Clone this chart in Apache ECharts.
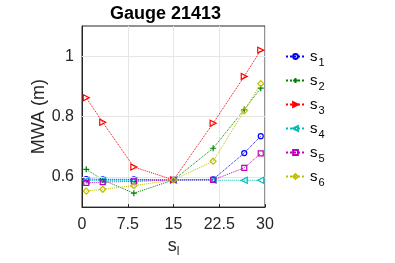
<!DOCTYPE html>
<html><head><meta charset="utf-8">
<script src="https://cdn.jsdelivr.net/npm/echarts@6/dist/echarts.min.js"></script>
<style>html,body{margin:0;padding:0;background:#fff}#c{width:395px;height:263px}</style>
</head><body><div id="c"></div>
<script>
const titleText = 'Gauge 21413';
const xTicks = [0, 7.5, 15, 22.5, 30];
const yTicks = [0.6, 0.8, 1];
const xs = [0.7, 3.4, 8.5, 15, 21.5, 26.6, 29.3];
const s1 = [0.593, 0.592, 0.592, 0.59, 0.592, 0.679, 0.735];
const s2 = [0.625, 0.59, 0.546, 0.59, 0.695, 0.823, 0.894];
const s3 = [0.862, 0.781, 0.633, 0.59, 0.778, 0.933, 1.02];
const s4 = [0.588, 0.588, 0.588, 0.589, 0.589, 0.589, 0.589];
const s5 = [0.58, 0.583, 0.585, 0.59, 0.59, 0.63, 0.678];
const s6 = [0.553, 0.559, 0.571, 0.59, 0.652, 0.819, 0.909];
const names = ['s1', 's2', 's3', 's4', 's5', 's6'];
const values = [s1, s2, s3, s4, s5, s6];
const colors = ['#0000ff', '#008000', '#ff0000', '#00bfbf', '#bf00bf', '#bfbf00'];
const symbols = ['circle', 'path://M5,0L5,10M0,5L10,5', 'triangle', 'triangle', 'rect', 'diamond'];
const rotations = [0, 0, -90, 90, 0, 0];
const sizes = [5, 6, 6, 6, 5, 6];

const chart = echarts.init(document.getElementById('c'), null, {renderer: 'canvas'});
const txt = '#262626';
const series = names.map((n, i) => ({
  name: n,
  type: 'line',
  data: xs.map((x, j) => [x, values[i][j]]),
  symbol: symbols[i],
  symbolRotate: rotations[i],
  symbolSize: sizes[i],
  showAllSymbol: true,
  lineStyle: {color: colors[i], width: 1, type: 'dotted'},
  itemStyle: {color: 'rgba(255,255,255,0)', borderColor: colors[i], borderWidth: 1.2},
  emphasis: {disabled: true},
  animation: false,
  z: 3 + i
}));
series.push({
  type: 'line', data: [], silent: true,
  markLine: {
    silent: true, symbol: 'none', label: {show: false},
    lineStyle: {color: '#e6e6e6', width: 1, type: 'solid'},
    data: yTicks.map(v => ({yAxis: v}))
  },
  z: 1
});
chart.setOption({
  animation: false,
  title: {
    text: titleText, left: 105, top: 0,
    textStyle: {fontFamily: 'Liberation Sans', fontSize: 18, fontWeight: 'bold', color: '#000'}
  },
  grid: {left: 82, right: 130, top: 26, bottom: 55, show: true, borderColor: txt, borderWidth: 1, backgroundColor: '#fff'},
  legend: {
    orient: 'vertical', left: 280, top: 44, itemWidth: 19, itemHeight: 6, itemGap: 5,
    data: names,
    formatter: n => '{s|s}{sub|' + n.slice(1) + '}',
    textStyle: {
      fontFamily: 'Liberation Sans', color: '#000',
      rich: {
        s: {fontSize: 15, fontFamily: 'Liberation Sans', color: '#000'},
        sub: {fontSize: 11, fontFamily: 'Liberation Sans', color: '#000', padding: [12, 0, 0, 1]}
      }
    }
  },
  xAxis: {
    type: 'value', min: 0, max: 30, interval: 7.5,
    name: '{s|s}{sub|l}', nameLocation: 'middle', nameGap: 22,
    nameTextStyle: {rich: {
      s: {fontSize: 18, fontFamily: 'Liberation Sans', color: txt},
      sub: {fontSize: 12, fontFamily: 'Liberation Sans', color: txt, padding: [12, 0, 0, 0]}
    }},
    axisLine: {show: true, lineStyle: {color: txt}},
    axisTick: {show: true, inside: true, length: 3, lineStyle: {color: txt}},
    axisLabel: {fontFamily: 'Liberation Sans', fontSize: 16, color: txt, margin: 9},
    splitLine: {show: true, lineStyle: {color: '#e6e6e6'}}
  },
  yAxis: {
    type: 'value', min: 0.5, max: 1.1, interval: 0.1,
    name: 'MWA (m)', nameLocation: 'middle', nameGap: 34, nameRotate: 90,
    nameTextStyle: {fontFamily: 'Liberation Sans', fontSize: 18, color: txt},
    axisLine: {show: true, lineStyle: {color: txt}},
    axisTick: {show: true, inside: true, length: 3, lineStyle: {color: txt}, customValues: yTicks},
    axisLabel: {fontFamily: 'Liberation Sans', fontSize: 16, color: txt, margin: 8, customValues: yTicks},
    splitLine: {show: false}
  },
  series: series
});
</script></body></html>
